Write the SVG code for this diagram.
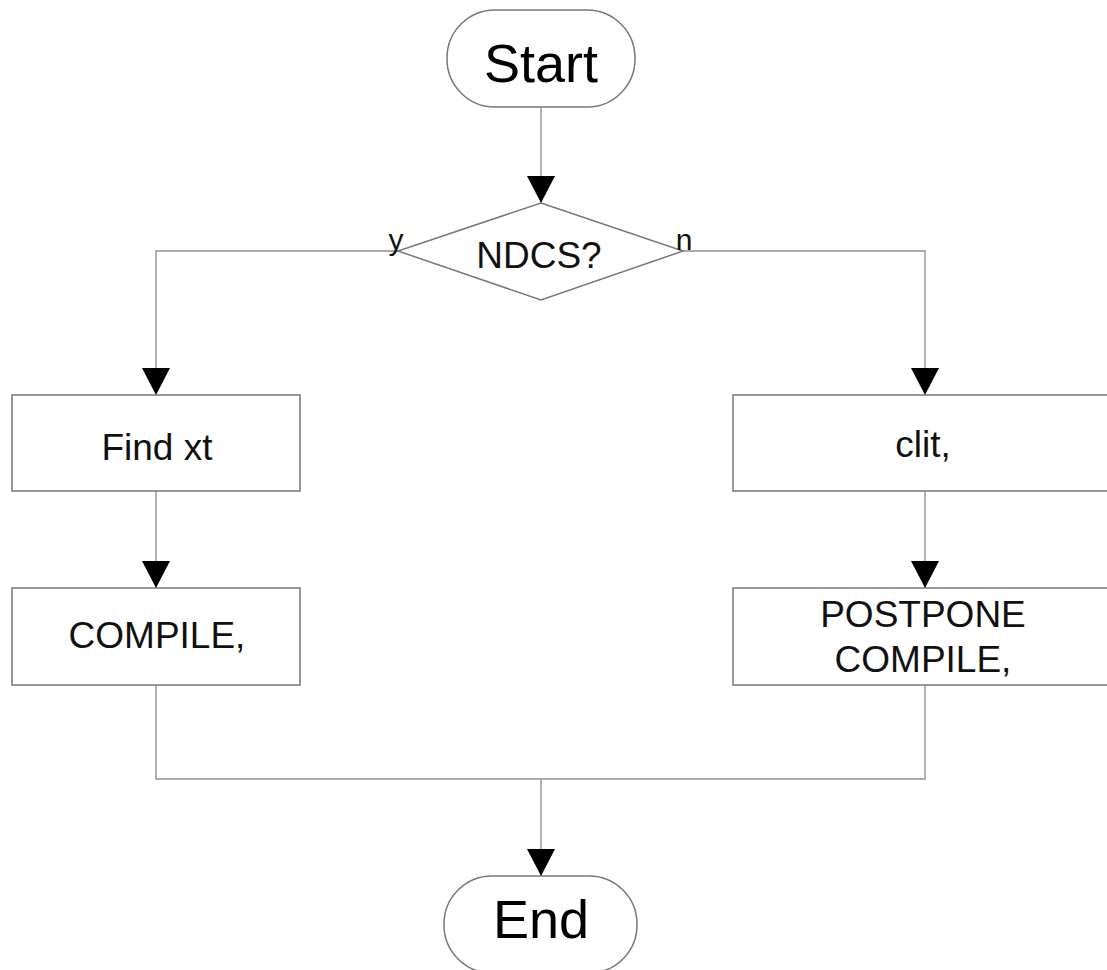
<svg xmlns="http://www.w3.org/2000/svg" width="1107" height="970" viewBox="0 0 1107 970">
<defs>
<marker id="arr" markerUnits="userSpaceOnUse" markerWidth="28" markerHeight="28" viewBox="0 0 28 28" refX="27" refY="14" orient="auto">
<path d="M0,0 L27,14 L0,28 Z" fill="#000"/>
</marker>
<style>
.shape{fill:#fff;stroke:#777;stroke-width:1.5}
.conn{fill:none;stroke:#aaa;stroke-width:1.8}
.big{font-family:"Liberation Sans",Arial,sans-serif;font-size:54px;fill:#000;text-anchor:middle}
.mid{font-family:"Liberation Sans",Arial,sans-serif;font-size:37px;fill:#111;text-anchor:middle}
.lbl{font-family:"Liberation Sans",Arial,sans-serif;font-size:30px;fill:#111;text-anchor:middle}
</style>
</defs>
<rect width="1107" height="970" fill="#fff"/>
<g id="connectors">
<path class="conn" d="M541,107 V203" marker-end="url(#arr)"/>
<path class="conn" d="M398,251 H156 V395" marker-end="url(#arr)"/>
<path class="conn" d="M683,251 H925 V395" marker-end="url(#arr)"/>
<path class="conn" d="M156,491 V588" marker-end="url(#arr)"/>
<path class="conn" d="M925,491 V588" marker-end="url(#arr)"/>
<path class="conn" d="M156,685 V779 H925 V685"/>
<path class="conn" d="M541,779 V876" marker-end="url(#arr)"/>
</g>
<g id="start">
<rect class="shape" x="447" y="10" width="188" height="97" rx="48" ry="48"/>
<text class="big" x="541" y="82">Start</text>
</g>
<g id="decision">
<polygon class="shape" points="541,203 683,251 541,300 398,251"/>
<text class="mid" x="539" y="268">NDCS?</text>
<text class="lbl" x="396" y="250">y</text>
<text class="lbl" x="684" y="250">n</text>
</g>
<g id="findxt">
<rect class="shape" x="12" y="395" width="288" height="96"/>
<text class="mid" x="157" y="460">Find xt</text>
</g>
<g id="clit">
<rect class="shape" x="733" y="395" width="384" height="96"/>
<text class="mid" x="923" y="457">clit,</text>
</g>
<g id="compile">
<rect class="shape" x="12" y="588" width="288" height="97"/>
<text class="mid" x="157" y="648">COMPILE,</text>
</g>
<g id="postpone">
<rect class="shape" x="733" y="588" width="384" height="97"/>
<text class="mid" x="923" y="627">POSTPONE</text>
<text class="mid" x="923" y="672">COMPILE,</text>
</g>
<g id="end">
<rect class="shape" x="444" y="876" width="193" height="97" rx="48" ry="48"/>
<text class="big" x="541" y="938">End</text>
</g>
</svg>
